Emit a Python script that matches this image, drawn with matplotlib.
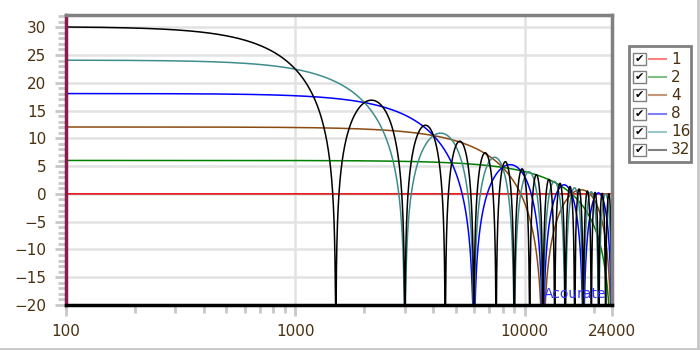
import numpy as np
import matplotlib
matplotlib.use("Agg")
import matplotlib.pyplot as plt
from matplotlib.patches import Rectangle
from matplotlib.lines import Line2D

# moving-average (box) filter lengths shown in the legend, 48 kHz sample rate
taps = [1, 2, 4, 8, 16, 32]
labels = ["1", "2", "4", "8", "16", "32"]
colors = ["#e00000", "#008000", "#8b4a10", "#0000ff", "#3f8c8c", "#000000"]
legend_colors = ["#ff8080", "#80c080", "#c09878", "#8080ff", "#98c8c8", "#808080"]
fs = 48000
f_min, f_max = 100, 24000
y_ticks = [-20, -15, -10, -5, 0, 5, 10, 15, 20, 25, 30]
x_ticks = [100, 1000, 10000, 24000]
x_ticklabels = ["100", "1000", "10000", "24000"]

text_col = "#4a3010"

fig = plt.figure(figsize=(7, 3.5), dpi=100)
ax = fig.add_axes([66 / 700, 45 / 350, 546 / 700, 290 / 350])

f = np.logspace(np.log10(f_min), np.log10(f_max), 30000)
w = np.pi * f / fs
for n, col in zip(taps, colors):
    mag = np.abs(np.sin(n * w) / np.sin(w))
    db = 20 * np.log10(np.maximum(mag, 1e-6))
    db = np.maximum(db, -21)
    ax.plot(f, db, color=col, lw=1.1)

ax.set_xscale("log")
ax.set_xlim(f_min, f_max)
ax.set_ylim(-20, 32.2)

ax.set_yticks(y_ticks)
ax.set_yticks(np.arange(-20, 33, 1), minor=True)
ax.set_xticks(x_ticks)
ax.set_xticklabels(x_ticklabels)
minor_x = [m * d for d in (100, 1000, 10000) for m in range(2, 10)]
ax.set_xticks([v for v in minor_x if v < f_max], minor=True)
ax.xaxis.set_minor_formatter(plt.NullFormatter())

ax.tick_params(which="major", length=8, width=2, color="#c8c8c8",
               labelsize=11, labelcolor=text_col, pad=6)
ax.tick_params(which="minor", length=6, width=2, color="#c8c8c8")

ax.grid(True, which="major", color="#e2e2e2", lw=1.8)
ax.set_axisbelow(True)

ax.spines["left"].set_color("#8b1a4d")
ax.spines["left"].set_linewidth(2.5)
ax.spines["bottom"].set_color("black")
ax.spines["bottom"].set_linewidth(2.5)
ax.spines["top"].set_color("#808080")
ax.spines["top"].set_linewidth(2.5)
ax.spines["right"].set_color("#808080")
ax.spines["right"].set_linewidth(2.5)

ax.text(0.99, 0.015, "Acourate", transform=ax.transAxes, color="#3030ff",
        fontsize=10, ha="right", va="bottom")


# legend with check boxes, drawn in pixel coordinates of the figure
def px(x, y):
    return x / 700, 1 - y / 350


lx0, ly0, lx1, ly1 = 629, 46, 691, 162
fig.add_artist(Rectangle(px(lx0, ly1), (lx1 - lx0) / 700, (ly1 - ly0) / 350,
                         transform=fig.transFigure, fill=False,
                         edgecolor="#808080", lw=2))
for i, (lab, col) in enumerate(zip(labels, legend_colors)):
    yc = 59 + i * 18.2
    fig.add_artist(Rectangle(px(633, yc + 6), 13 / 700, 12 / 350,
                             transform=fig.transFigure, fill=False,
                             edgecolor="#808080", lw=1))
    fig.text(*px(639.5, yc), "\u2714", fontsize=8, ha="center", va="center",
             color="black")
    fig.add_artist(Line2D([649 / 700, 666 / 700], [1 - yc / 350] * 2,
                          transform=fig.transFigure, color=col, lw=1.5))
    fig.text(*px(671, yc), lab, fontsize=11, ha="left", va="center",
             color=text_col)

# window border lines
fig.add_artist(Line2D([697.5 / 700] * 2, [0, 1], transform=fig.transFigure,
                      color="#c8c8c8", lw=2))
fig.add_artist(Line2D([0, 1], [1.5 / 350] * 2, transform=fig.transFigure,
                      color="#c8c8c8", lw=2))

fig.savefig("out.png", dpi=100)
